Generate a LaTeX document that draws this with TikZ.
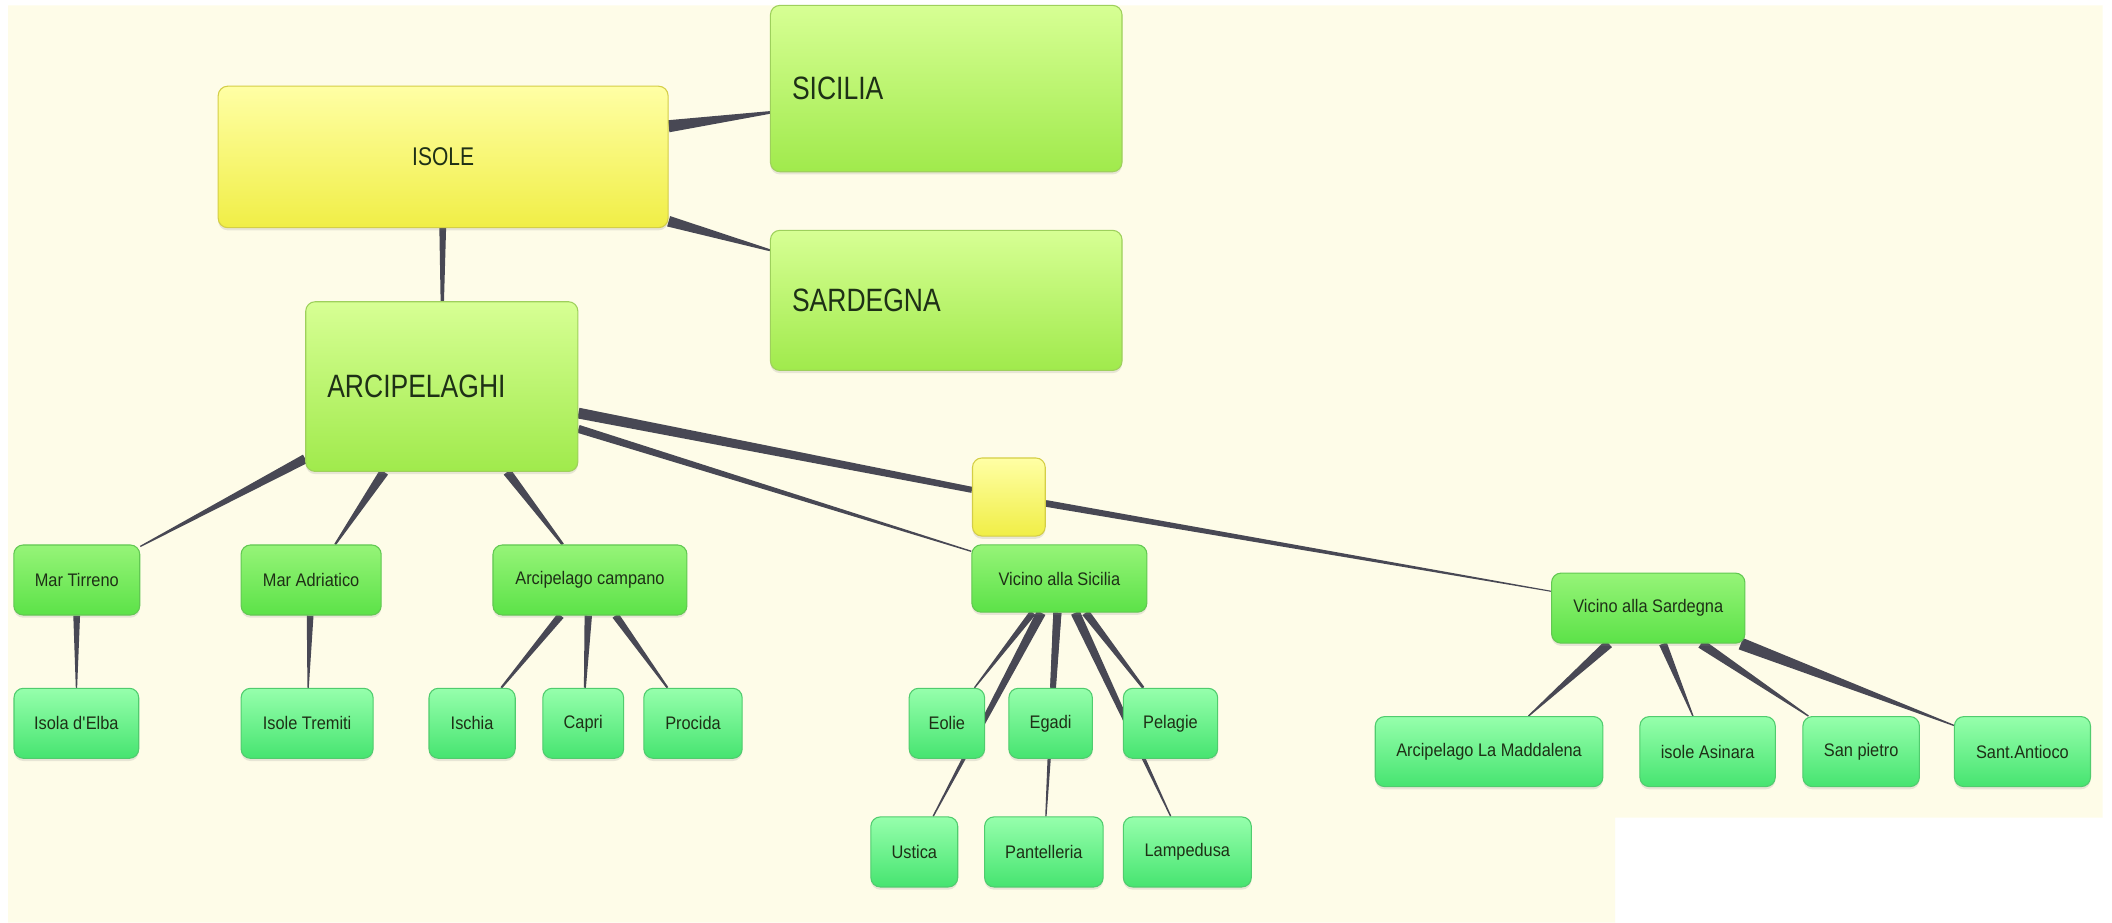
\documentclass[tikz,border=0pt]{standalone}
\usepackage{fontspec}
\setmainfont{Liberation Sans}[FakeStretch=0.9]
\newfontfamily\capsfont{Liberation Sans}[FakeStretch=0.82]
\usetikzlibrary{calc,backgrounds,shadows}

\definecolor{paper}{RGB}{254,252,232}
\definecolor{ink}{RGB}{30,48,22}
\definecolor{wire}{RGB}{72,72,84}
\definecolor{yellowtop}{RGB}{255,255,165}
\definecolor{yellowbot}{RGB}{240,238,70}
\definecolor{yellowedge}{RGB}{212,206,70}
\definecolor{limetop}{RGB}{215,255,148}
\definecolor{limebot}{RGB}{160,234,76}
\definecolor{limeedge}{RGB}{158,208,92}
\definecolor{greentop}{RGB}{150,244,120}
\definecolor{greenbot}{RGB}{92,226,72}
\definecolor{greenedge}{RGB}{98,200,82}
\definecolor{leaftop}{RGB}{150,255,172}
\definecolor{leafbot}{RGB}{70,228,112}
\definecolor{leafedge}{RGB}{80,204,110}

% tapered connector: from node, to node, width at start, width at end
\newcommand{\taperline}[4]{%
  \path (#1) -- (#2) coordinate[pos=0] (t_s) coordinate[pos=1] (t_e);
  \fill[wire] ($(t_s)!#3*0.5pt!90:(t_e)$) -- ($(t_e)!#4*0.5pt!-90:(t_s)$)
    -- ($(t_e)!#4*0.5pt!90:(t_s)$) -- ($(t_s)!#3*0.5pt!-90:(t_e)$) -- cycle;}

\tikzset{
  map_box/.style={rectangle, rounded corners=7pt, inner sep=0pt, line width=0.8pt, text=ink,
    drop shadow={shadow xshift=0pt, shadow yshift=-2pt, opacity=0.18}},
  root_box/.style={map_box, draw=yellowedge, top color=yellowtop, bottom color=yellowbot,
    font=\capsfont\fontsize{19}{22}\selectfont},
  joint_box/.style={map_box, draw=yellowedge, top color=yellowtop, bottom color=yellowbot},
  branch_box/.style={map_box, draw=limeedge, top color=limetop, bottom color=limebot,
    font=\capsfont\fontsize{24}{28}\selectfont, align=left, inner xsep=16pt},
  group_box/.style={map_box, draw=greenedge, top color=greentop, bottom color=greenbot,
    font=\fontsize{13.5}{16}\selectfont, minimum height=52pt},
  leaf_box/.style={map_box, draw=leafedge, top color=leaftop, bottom color=leafbot,
    font=\fontsize{13.5}{16}\selectfont, minimum height=52pt},
}

\begin{document}
\begin{tikzpicture}[x=1pt,y=-1pt]
    \useasboundingbox (0,0) rectangle (1568,685);

    % Top level
    \node[root_box, minimum width=334pt, minimum height=105pt] (isole) at (329,116.5) {ISOLE};
    \node[branch_box, text width=229pt, minimum height=123.5pt] (sicilia) at (702.5,65.75) {SICILIA};
    \node[branch_box, text width=229pt, minimum height=104pt] (sardegna) at (702.5,223) {SARDEGNA};
    \node[branch_box, text width=170pt, minimum height=126pt] (arcipelaghi) at (328,287) {ARCIPELAGHI};
    \node[joint_box, minimum width=54pt, minimum height=58pt] (joint) at (749,369) {};

    % Groups of archipelagos
    \node[group_box, minimum width=93.5pt] (mar_tirreno) at (57,430.6) {Mar Tirreno};
    \node[group_box, minimum width=104pt] (mar_adriatico) at (231,430.6) {Mar Adriatico};
    \node[group_box, minimum width=144pt] (campano) at (438,430.6) {Arcipelago campano};
    \node[group_box, minimum width=130pt, minimum height=50pt] (vicino_sicilia) at (786.5,429.5) {Vicino alla Sicilia};
    \node[group_box, minimum width=143.5pt] (vicino_sardegna) at (1223.7,451.5) {Vicino alla Sardegna};

    % Islands, first row
    \node[leaf_box, minimum width=92.6pt] (elba) at (56.7,537) {Isola d\textquotesingle Elba};
    \node[leaf_box, minimum width=98pt] (tremiti) at (228,537) {Isole Tremiti};
    \node[leaf_box, minimum width=64pt] (ischia) at (350.5,537) {Ischia};
    \node[leaf_box, minimum width=60pt] (capri) at (433,537) {Capri};
    \node[leaf_box, minimum width=73pt] (procida) at (514.5,537) {Procida};
    \node[leaf_box, minimum width=56pt] (eolie) at (703,537) {Eolie};
    \node[leaf_box, minimum width=62pt] (egadi) at (780,537) {Egadi};
    \node[leaf_box, minimum width=70pt] (pelagie) at (869,537) {Pelagie};

    % Islands, second row
    \node[leaf_box, minimum width=64.5pt] (ustica) at (678.8,632.5) {Ustica};
    \node[leaf_box, minimum width=88pt] (pantelleria) at (775,632.5) {Pantelleria};
    \node[leaf_box, minimum width=95pt] (lampedusa) at (881.5,632.5) {Lampedusa};

    % Islands near Sardinia
    \node[leaf_box, minimum width=169pt] (maddalena) at (1105.5,558) {Arcipelago La Maddalena};
    \node[leaf_box, minimum width=100.5pt] (asinara) at (1267.75,558) {isole Asinara};
    \node[leaf_box, minimum width=86.5pt] (san_pietro) at (1381.75,558) {San pietro};
    \node[leaf_box, minimum width=101pt] (antioco) at (1501.5,558) {Sant.Antioco};

    \begin{scope}[on background layer]
        \fill[white] (0,0) rectangle (1568,685);
        \fill[paper] (6,4) -- (1561,4) -- (1561,607) -- (1199,607) -- (1199,685) -- (6,685) -- cycle;

        \taperline{isole}{sicilia}{9}{2}
        \taperline{isole}{sardegna}{8}{1.5}
        \taperline{isole}{arcipelaghi}{5}{2.5}

        \taperline{arcipelaghi}{mar_tirreno}{7}{1}
        \taperline{arcipelaghi}{mar_adriatico}{7}{1.5}
        \taperline{arcipelaghi}{campano}{6.5}{2}
        \taperline{arcipelaghi}{joint}{8}{4.5}
        \taperline{arcipelaghi}{vicino_sicilia}{6}{1}
        \taperline{joint}{vicino_sardegna}{5}{0.8}

        \taperline{mar_tirreno}{elba}{5}{1}
        \taperline{mar_adriatico}{tremiti}{5}{1}
        \taperline{campano}{ischia}{5.5}{1.5}
        \taperline{campano}{capri}{5.5}{1.5}
        \taperline{campano}{procida}{5.5}{1.5}

        \taperline{vicino_sicilia}{eolie}{5}{1}
        \taperline{vicino_sicilia}{egadi}{6}{4}
        \taperline{vicino_sicilia}{pelagie}{6}{2}
        \taperline{vicino_sicilia}{ustica}{7}{1}
        \taperline{vicino_sicilia}{pantelleria}{6}{1}
        \taperline{vicino_sicilia}{lampedusa}{7}{1}

        \taperline{vicino_sardegna}{maddalena}{7}{1}
        \taperline{vicino_sardegna}{asinara}{6}{1}
        \taperline{vicino_sardegna}{san_pietro}{7}{1}
        \taperline{vicino_sardegna}{antioco}{9}{1}
    \end{scope}
\end{tikzpicture}
\end{document}
